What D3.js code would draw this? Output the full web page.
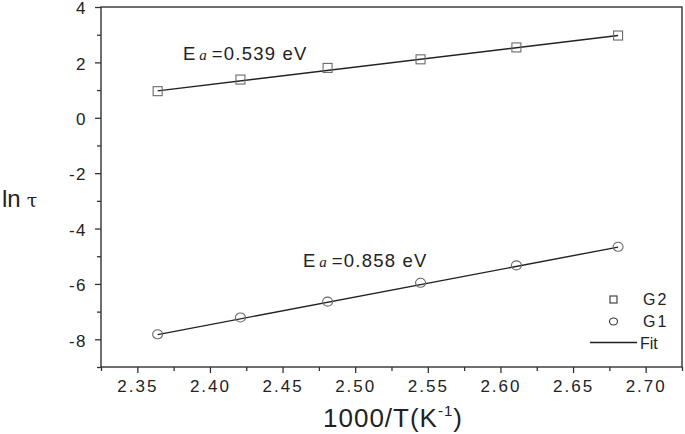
<!DOCTYPE html>
<html>
<head>
<meta charset="utf-8">
<script src="https://cdn.jsdelivr.net/npm/d3@7"></script>
<style>
  body { margin: 0; background: #fff; }
  svg { display: block; font-family: "Liberation Sans", Arial, sans-serif; }
</style>
</head>
<body>
<svg class="canvas"></svg>
<script>
// 1000/T values (K^-1) and ln(tau) per sample
const xValues = [2.364, 2.421, 2.481, 2.545, 2.611, 2.681];
const g2Values = [0.96, 1.38, 1.80, 2.11, 2.54, 2.97];
const g1Values = [-7.82, -7.21, -6.64, -5.96, -5.33, -4.66];

// fitted lines, ends only
const fitX = [2.364, 2.681];
const fitG2 = [0.97, 2.97];
const fitG1 = [-7.83, -4.67];

const xTicks = [2.35, 2.40, 2.45, 2.50, 2.55, 2.60, 2.65, 2.70];
const xMinor = [2.325, 2.375, 2.425, 2.475, 2.525, 2.575, 2.625, 2.675, 2.725];
const yTicks = [-8, -6, -4, -2, 0, 2, 4];
const yMinor = [-9, -7, -5, -3, -1, 1, 3];

const w = 685;
const h = 434;
const padLeft = 101, padRight = 682, padTop = 7, padBottom = 367;

const svg = d3.select("svg.canvas")
    .attr("width", w)
    .attr("height", h);

const xScale = d3.scaleLinear().domain([2.325, 2.725]).range([padLeft, padRight]);
const yScale = d3.scaleLinear().domain([-9, 4]).range([padBottom, padTop]);

const axisColor = "#333";

// minor ticks first, then major axes with labels
svg.append("g")
    .attr("transform", "translate(0," + padBottom + ")")
    .call(d3.axisBottom(xScale).tickValues(xMinor).tickSize(4).tickFormat(""))
    .call(g => g.select(".domain").remove());
svg.append("g")
    .attr("transform", "translate(" + padLeft + ",0)")
    .call(d3.axisLeft(yScale).tickValues(yMinor).tickSize(4).tickFormat(""))
    .call(g => g.select(".domain").remove());

const xAxis = svg.append("g")
    .attr("transform", "translate(0," + padBottom + ")")
    .call(d3.axisBottom(xScale).tickValues(xTicks).tickSize(6).tickPadding(7)
        .tickFormat(d3.format(".2f")));
xAxis.select(".domain").remove();
xAxis.selectAll("text")
    .attr("font-size", 17)
    .attr("letter-spacing", 2)
    .attr("fill", "#222");

const yAxis = svg.append("g")
    .attr("transform", "translate(" + padLeft + ",0)")
    .call(d3.axisLeft(yScale).tickValues(yTicks).tickSize(6).tickPadding(8)
        .tickFormat(d => d < 0 ? "-" + Math.abs(d) : d));
yAxis.select(".domain").remove();
yAxis.selectAll("text")
    .attr("font-size", 17)
    .attr("letter-spacing", 1.5)
    .attr("dy", "0.4em")
    .attr("fill", "#222");

svg.selectAll(".tick line").attr("stroke", axisColor).attr("stroke-width", 1.3);

// frame
svg.append("rect")
    .attr("x", padLeft)
    .attr("y", padTop)
    .attr("width", padRight - padLeft)
    .attr("height", padBottom - padTop)
    .attr("fill", "none")
    .attr("stroke", axisColor)
    .attr("stroke-width", 1.4);

// fit lines
const line = d3.line()
    .x(d => xScale(d[0]))
    .y(d => yScale(d[1]));

[fitG2, fitG1].forEach(f => {
    svg.append("path")
        .datum(fitX.map((x, i) => [x, f[i]]))
        .attr("d", line)
        .attr("fill", "none")
        .attr("stroke", "#222")
        .attr("stroke-width", 1.4);
});

// markers
const markerColor = "#6a6a6a";
svg.selectAll("rect.g2")
    .data(xValues.map((x, i) => [x, g2Values[i]]))
    .enter()
    .append("rect")
    .attr("class", "g2")
    .attr("x", d => xScale(d[0]) - 4.5)
    .attr("y", d => yScale(d[1]) - 4.5)
    .attr("width", 9)
    .attr("height", 9)
    .attr("fill", "none")
    .attr("stroke", markerColor)
    .attr("stroke-width", 1.1);

svg.selectAll("ellipse.g1")
    .data(xValues.map((x, i) => [x, g1Values[i]]))
    .enter()
    .append("ellipse")
    .attr("class", "g1")
    .attr("cx", d => xScale(d[0]))
    .attr("cy", d => yScale(d[1]))
    .attr("rx", 5)
    .attr("ry", 4.5)
    .attr("fill", "none")
    .attr("stroke", markerColor)
    .attr("stroke-width", 1.1);

// activation energy labels
let addEa = (x, y, value) => {
    const t = svg.append("text")
        .attr("x", x)
        .attr("y", y)
        .attr("font-size", 18.5)
        .attr("fill", "#222");
    t.append("tspan").text("E");
    t.append("tspan")
        .attr("font-family", "'Liberation Serif', 'DejaVu Serif', serif")
        .attr("font-style", "italic")
        .attr("font-size", 15)
        .attr("dx", 4)
        .text("a");
    t.append("tspan").attr("dx", 5).attr("letter-spacing", 1.2).text("=" + value + " eV");
};
addEa(183, 60, "0.539");
addEa(303, 267, "0.858");

// legend
const legend = svg.append("g").attr("fill", "#222").attr("font-size", 16);
legend.append("rect")
    .attr("x", 610).attr("y", 296).attr("width", 7).attr("height", 7)
    .attr("fill", "none").attr("stroke", "#333").attr("stroke-width", 1.1);
legend.append("ellipse")
    .attr("cx", 613.5).attr("cy", 321.5).attr("rx", 4).attr("ry", 3.5)
    .attr("fill", "none").attr("stroke", "#333").attr("stroke-width", 1.1);
legend.append("line")
    .attr("x1", 590).attr("x2", 637).attr("y1", 342.5).attr("y2", 342.5)
    .attr("stroke", "#222").attr("stroke-width", 1.3);
legend.append("text").attr("x", 643).attr("y", 304.5).attr("letter-spacing", 2).text("G2");
legend.append("text").attr("x", 643).attr("y", 326.5).attr("letter-spacing", 2).text("G1");
legend.append("text").attr("x", 640).attr("y", 348.5).text("Fit");

// axis titles
const xTitle = svg.append("text")
    .attr("x", 393)
    .attr("y", 427)
    .attr("text-anchor", "middle")
    .attr("font-size", 26)
    .attr("letter-spacing", 1)
    .attr("fill", "#222");
xTitle.append("tspan").text("1000/T(K");
xTitle.append("tspan").attr("font-size", 15).attr("dy", -11).text("-1");
xTitle.append("tspan").attr("dy", 11).text(")");

const yTitle = svg.append("text")
    .attr("x", 2)
    .attr("y", 207)
    .attr("font-size", 24)
    .attr("fill", "#222");
yTitle.append("tspan").text("ln");
yTitle.append("tspan").attr("dx", 6).attr("font-family", "'DejaVu Serif', serif").attr("font-size", 19).text("τ");
</script>
</body>
</html>
